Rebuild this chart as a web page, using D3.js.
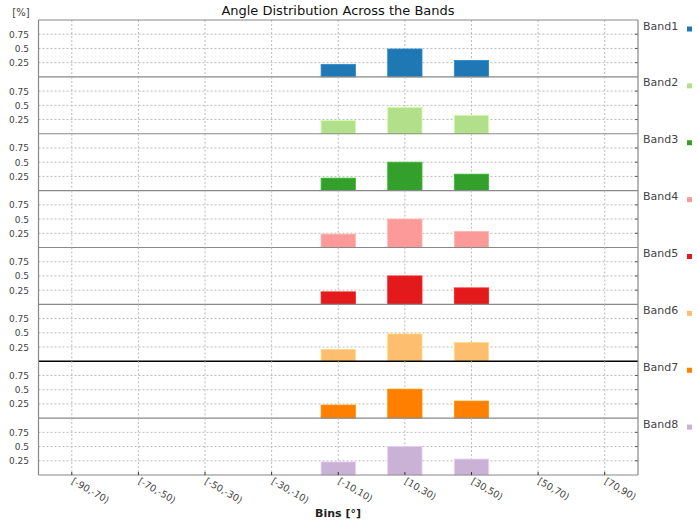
<!DOCTYPE html>
<html>
<head>
<meta charset="utf-8">
<script src="https://cdn.jsdelivr.net/npm/d3@7"></script>
<style>
  body { margin: 0; background: #fff; }
  svg { font-family: "DejaVu Sans", sans-serif; }
</style>
</head>
<body>
<svg id="chart" width="697" height="525"></svg>
<script>
// Angle bins along the x axis
const bins = ["[-90,-70)", "[-70,-50)", "[-50,-30)", "[-30,-10)", "[-10,10)", "[10,30)", "[30,50)", "[50,70)", "[70,90)"];
const bands = ["Band1", "Band2", "Band3", "Band4", "Band5", "Band6", "Band7", "Band8"];
const colors = ["#1f78b4", "#b2df8a", "#33a02c", "#fb9a99", "#e31a1c", "#fdbf6f", "#ff7f00", "#cab2d6"];
const yTicks = [0.25, 0.5, 0.75];

// Share of angles per bin, one row per band
const band1 = [0, 0, 0, 0, 0.22, 0.49, 0.29, 0, 0];
const band2 = [0, 0, 0, 0, 0.23, 0.46, 0.32, 0, 0];
const band3 = [0, 0, 0, 0, 0.22, 0.50, 0.29, 0, 0];
const band4 = [0, 0, 0, 0, 0.235, 0.50, 0.28, 0, 0];
const band5 = [0, 0, 0, 0, 0.22, 0.50, 0.29, 0, 0];
const band6 = [0, 0, 0, 0, 0.21, 0.48, 0.33, 0, 0];
const band7 = [0, 0, 0, 0, 0.23, 0.51, 0.30, 0, 0];
const band8 = [0, 0, 0, 0, 0.23, 0.50, 0.28, 0, 0];
const series = [band1, band2, band3, band4, band5, band6, band7, band8];

const svg = d3.select("#chart");
const plotL = 38.5, plotR = 638, plotT = 20, plotB = 475;
const panelH = (plotB - plotT) / bands.length;

const x = d3.scaleBand().domain(bins).range([plotL, plotR]).paddingInner(0.485).paddingOuter(0.2425);
const xc = d3.scalePoint().domain(bins).range([plotL, plotR]).padding(0.5);

// Title and axis captions
svg.append("text").attr("x", 338).attr("y", 15).attr("text-anchor", "middle")
  .attr("font-size", 13).attr("fill", "#111").text("Angle Distribution Across the Bands");
svg.append("text").attr("x", 21).attr("y", 16).attr("text-anchor", "middle")
  .attr("font-size", 10).attr("fill", "#444").text("[%]");
svg.append("text").attr("x", 338).attr("y", 517).attr("text-anchor", "middle")
  .attr("font-size", 11).attr("font-weight", "bold").attr("fill", "#222").text("Bins [°]");

bands.forEach((name, i) => {
  const y0 = plotT + i * panelH;
  const y = d3.scaleLinear().domain([0, 1]).range([y0 + panelH, y0]);
  const g = svg.append("g");

  // dotted grid
  g.selectAll(".hg").data(yTicks).join("line")
    .attr("x1", plotL).attr("x2", plotR)
    .attr("y1", d => y(d)).attr("y2", d => y(d))
    .attr("stroke", "#bbb").attr("stroke-width", 1).attr("stroke-dasharray", "2,2");
  g.selectAll(".vg").data(bins).join("line")
    .attr("x1", d => xc(d)).attr("x2", d => xc(d))
    .attr("y1", y0).attr("y2", y0 + panelH)
    .attr("stroke", "#bbb").attr("stroke-width", 1).attr("stroke-dasharray", "2,2");

  // y tick labels
  g.selectAll(".yl").data(yTicks).join("text")
    .attr("x", 29).attr("y", d => y(d) + 3.5).attr("text-anchor", "end")
    .attr("font-size", 9).attr("fill", "#444").text(d => d);

  // right-side inward ticks
  g.selectAll(".rt").data(yTicks).join("line")
    .attr("x1", plotR - 3).attr("x2", plotR)
    .attr("y1", d => y(d)).attr("y2", d => y(d))
    .attr("stroke", "#555");

  // bars
  g.selectAll(".bar").data(series[i]).join("rect")
    .attr("x", (d, j) => x(bins[j]))
    .attr("width", x.bandwidth())
    .attr("y", d => y(d))
    .attr("height", d => y(0) - y(d))
    .attr("fill", colors[i])
    .attr("stroke", d3.color(colors[i]).brighter(0.4))
    .attr("stroke-width", 0.8);

  // legend
  svg.append("text").attr("x", 643).attr("y", y0 + 9.5).attr("font-size", 11)
    .attr("fill", "#444").text(name);
  svg.append("rect").attr("x", 687).attr("y", y0 + 6.5).attr("width", 5).attr("height", 5)
    .attr("fill", colors[i]);

  // panel baseline
  svg.append("line").attr("x1", plotL).attr("x2", plotR)
    .attr("y1", y(0)).attr("y2", y(0))
    .attr("stroke", i === 5 ? "#000" : "#888").attr("stroke-width", i === 5 ? 1.5 : 1.2);
});

// frame
svg.append("line").attr("x1", plotL).attr("x2", plotR).attr("y1", plotT).attr("y2", plotT)
  .attr("stroke", "#888").attr("stroke-width", 1.2);
svg.append("line").attr("x1", plotL).attr("x2", plotL).attr("y1", plotT).attr("y2", plotB)
  .attr("stroke", "#888").attr("stroke-width", 1.2);
svg.append("line").attr("x1", plotR).attr("x2", plotR).attr("y1", plotT).attr("y2", plotB)
  .attr("stroke", "#888").attr("stroke-width", 1.2);

// bottom ticks and rotated labels
svg.selectAll(".bt").data(bins).join("line")
  .attr("x1", d => xc(d)).attr("x2", d => xc(d))
  .attr("y1", plotB - 3).attr("y2", plotB).attr("stroke", "#333");
svg.selectAll(".bl").data(bins).join("text")
  .attr("transform", d => `translate(${xc(d) - 1},${plotB + 8}) rotate(30)`)
  .attr("font-size", 9.5).attr("fill", "#444").text(d => d);
</script>
</body>
</html>
